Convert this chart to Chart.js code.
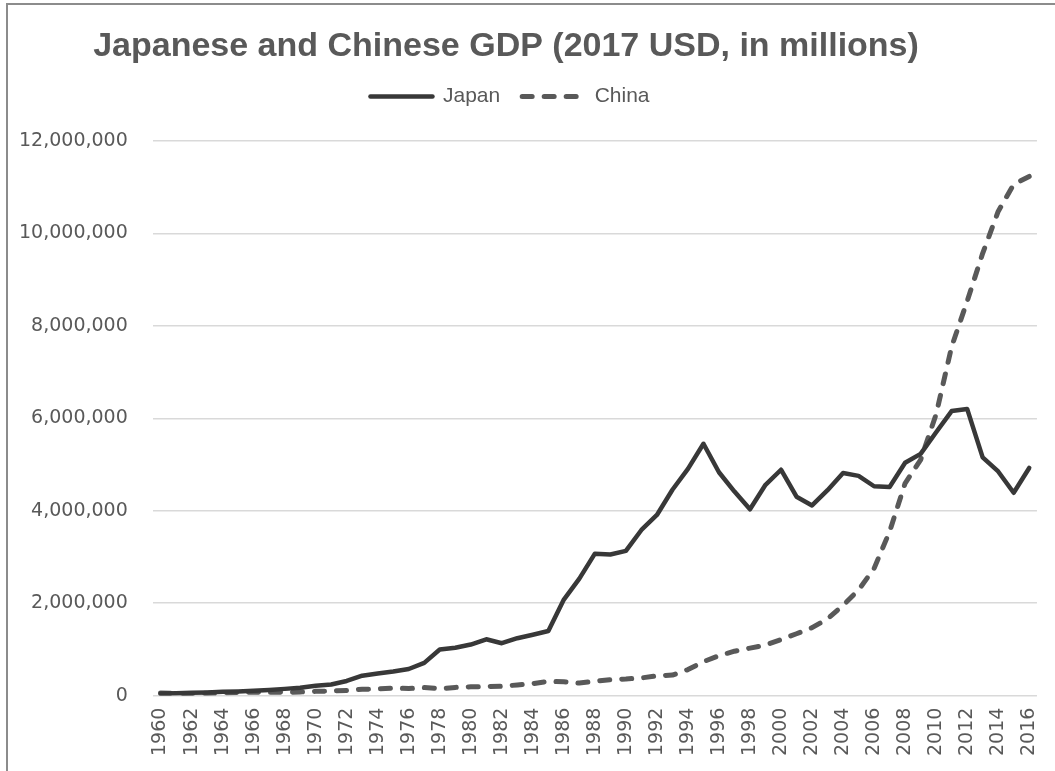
<!DOCTYPE html>
<html>
<head>
<meta charset="utf-8">
<script src="https://cdn.jsdelivr.net/npm/chart.js@4.4.1/dist/chart.umd.min.js"></script>
<style>
  html, body { margin: 0; padding: 0; background: #fff; overflow: hidden; }
  #cadre {
    position: absolute; left: 6px; top: 3px;
    width: 1049px; height: 768px;
    border-left: 2px solid #8c8c8c; border-top: 2px solid #8c8c8c;
  }
  #boite { position: absolute; left: 0; top: 0; width: 1056px; height: 766px; }
</style>
</head>
<body>
<div id="cadre"><div id="boite"><canvas id="gdpChart"></canvas></div></div>
<script>
// Années (axe des catégories)
const years = [
  "1960","1961","1962","1963","1964","1965","1966","1967","1968","1969",
  "1970","1971","1972","1973","1974","1975","1976","1977","1978","1979",
  "1980","1981","1982","1983","1984","1985","1986","1987","1988","1989",
  "1990","1991","1992","1993","1994","1995","1996","1997","1998","1999",
  "2000","2001","2002","2003","2004","2005","2006","2007","2008","2009",
  "2010","2011","2012","2013","2014","2015","2016",
];

// PIB du Japon (millions USD)
const japanGdp = [
  44307, 53509, 60723, 69498, 81749, 90950, 105628, 123782, 146601, 172204,
  212609, 240152, 318031, 432083, 479626, 521542, 576532, 709413, 996738, 1037453,
  1105386, 1218990, 1134518, 1243323, 1318381, 1398893, 2078953, 2532808, 3071683, 3054914,
  3132818, 3584420, 3908809, 4454144, 4907039, 5449116, 4833713, 4414733, 4032510, 4562079,
  4887520, 4303544, 4115116, 4445658, 4815149, 4755410, 4530377, 4515265, 5037908, 5231383,
  5700098, 6157460, 6203213, 5155717, 4850414, 4389476, 4926667,
];

// PIB de la Chine (millions USD)
const chinaGdp = [
  59716, 50057, 47209, 50707, 59708, 70436, 76720, 72882, 70847, 79706,
  92603, 99801, 113688, 138544, 144182, 163432, 153940, 174938, 149541, 178281,
  191149, 195866, 205090, 230687, 259947, 309488, 300758, 272973, 312354, 347768,
  360858, 383373, 426916, 444731, 564325, 734548, 863747, 961604, 1029043, 1093997,
  1211347, 1339396, 1470550, 1660288, 1955347, 2285966, 2752132, 3550342, 4594307, 5101702,
  6087165, 7551500, 8532231, 9570406, 10475683, 11061553, 11233277,
];

// Graduations de l'axe Y
const yTicks = [0, 2000000, 4000000, 6000000, 8000000, 10000000, 12000000];

const textColor = "#595959";
const gridColor = "#d9d9d9";

// Petit plugin : espace sous la légende et recentrage du titre / de la légende
const ajustements = {
  id: "ajustements",
  beforeInit(chart) {
    const legend = chart.legend;
    const fit = legend.fit;
    legend.fit = function () {
      fit.call(this);
      this.height += 24;
    };
  },
  afterLayout(chart) {
    chart.titleBlock.left = 0;
    chart.titleBlock.right = 996;
    chart.legend.left = 0;
    chart.legend.right = 1004;
  },
};

// Légende : reprend les tirets et l'épaisseur de chaque série
const legendLabels = (chart) =>
  Chart.defaults.plugins.legend.labels.generateLabels(chart).map((item) => {
    const ds = chart.data.datasets[item.datasetIndex];
    item.lineDash = ds.borderDash || [];
    item.lineWidth = ds.borderWidth;
    item.lineCap = "round";
    item.strokeStyle = ds.borderColor;
    return item;
  });

new Chart(document.getElementById("gdpChart"), {
  type: "line",
  data: {
    labels: years,
    datasets: [
      {
        label: "Japan",
        data: japanGdp,
        borderColor: "#383838",
        backgroundColor: "#383838",
        borderWidth: 4.5,
        borderCapStyle: "round",
        borderJoinStyle: "round",
        pointRadius: 0,
        tension: 0,
      },
      {
        label: "China",
        data: chinaGdp,
        borderColor: "#595959",
        backgroundColor: "#595959",
        borderWidth: 5,
        borderDash: [10, 12],
        borderCapStyle: "round",
        borderJoinStyle: "round",
        pointRadius: 0,
        tension: 0,
      },
    ],
  },
  plugins: [ajustements],
  options: {
    responsive: true,
    maintainAspectRatio: false,
    animation: false,
    layout: {
      padding: { top: 25, left: -14, right: 0, bottom: 3 },
    },
    plugins: {
      title: {
        display: true,
        text: "Japanese and Chinese GDP (2017 USD, in millions)",
        color: textColor,
        font: { family: "'Liberation Sans', Arial, sans-serif", size: 34, weight: "bold", lineHeight: 1.0 },
        padding: { top: 0, bottom: 0 },
      },
      legend: {
        display: true,
        position: "top",
        labels: {
          color: textColor,
          font: { family: "'Liberation Sans', Arial, sans-serif", size: 21 },
          usePointStyle: true,
          pointStyle: "line",
          pointStyleWidth: 62,
          padding: 22,
          generateLabels: legendLabels,
        },
      },
      tooltip: { enabled: false },
    },
    scales: {
      x: {
        offset: true,
        grid: { display: false, drawTicks: false },
        border: { display: false },
        ticks: {
          autoSkip: false,
          minRotation: 90,
          maxRotation: 90,
          padding: 12,
          color: textColor,
          font: { family: "'DejaVu Sans', sans-serif", size: 19 },
          callback: (value, index) => (index % 2 === 0 ? years[index] : ""),
        },
      },
      y: {
        min: yTicks[0],
        max: yTicks[yTicks.length - 1],
        grid: { color: gridColor, lineWidth: 1.5, drawTicks: false },
        border: { display: false },
        afterBuildTicks: (axis) => {
          axis.ticks = yTicks.map((v) => ({ value: v }));
        },
        ticks: {
          padding: 25,
          color: textColor,
          font: { family: "'DejaVu Sans', sans-serif", size: 19 },
          callback: (value) => value.toLocaleString("en-US"),
        },
      },
    },
  },
});
</script>
</body>
</html>
